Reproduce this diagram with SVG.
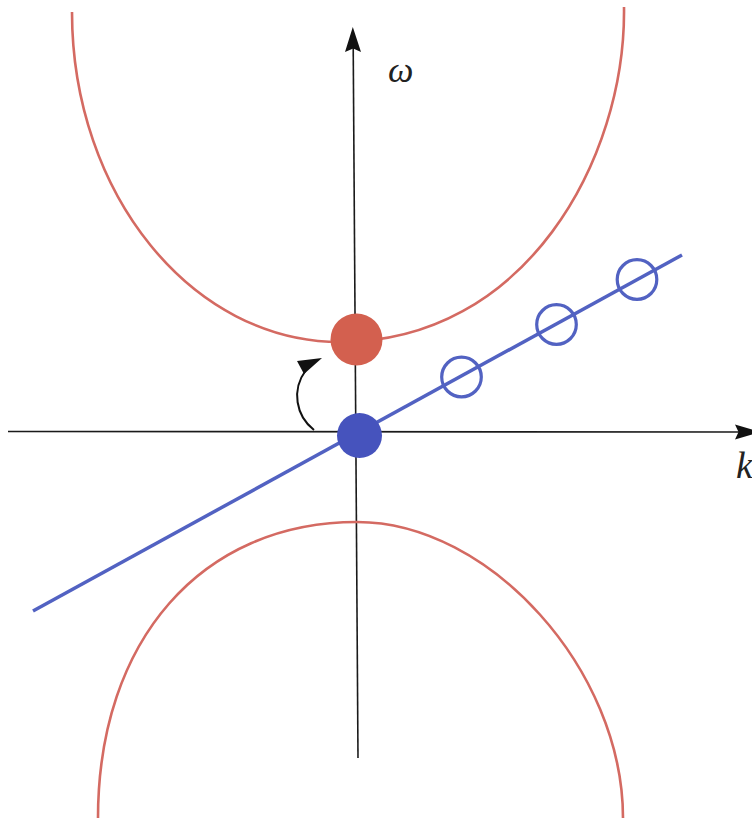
<svg xmlns="http://www.w3.org/2000/svg" width="752" height="825" viewBox="0 0 752 825">
<style>
.axis{stroke:#1a1a1a;stroke-width:1.6;fill:none}
.head{fill:#111}
.band{stroke:#d46a62;stroke-width:2.6;fill:none}
.blue{stroke:#5262c2;stroke-width:3.5;fill:none}
.ring{stroke:#5262c2;stroke-width:3.2;fill:none}
.lbl{font-family:"Liberation Serif","DejaVu Serif",serif;font-style:italic;fill:#222}
</style>
<rect width="752" height="825" fill="#ffffff"/>
<g id="connectors">
  <g id="k-axis">
    <line class="axis" x1="8" y1="431.5" x2="742" y2="432"/>
    <polygon class="head" points="760,432 735,424.5 738.5,432 735,439.5"/>
  </g>
  <g id="omega-axis">
    <line class="axis" x1="358" y1="758" x2="353.2" y2="46"/>
    <polygon class="head" points="352.8,27 361,52 353.2,48.5 345,52"/>
  </g>
  <g id="upper-band">
    <path class="band" d="M 72 12 C 72 194, 192 342, 340 342 C 525 342, 626 160, 624 7"/>
  </g>
  <g id="lower-band">
    <path class="band" d="M 98 818 C 98 640, 202 522, 357 522 C 490 522, 623 670, 623 818"/>
  </g>
  <g id="blue-line">
    <line class="blue" x1="33" y1="611" x2="682" y2="255"/>
  </g>
  <g id="turn-arrow">
    <path d="M 314 430 C 296 416, 291 390, 306 370" stroke="#111" stroke-width="2" fill="none"/>
    <polygon class="head" points="322,358 297,361 304,374"/>
  </g>
</g>
<g id="red-dot"><circle cx="356.5" cy="339.5" r="26" fill="#d3604f"/></g>
<g id="blue-dot"><circle cx="359.5" cy="435.5" r="22.5" fill="#4653bd"/></g>
<g id="ring-1"><circle class="ring" cx="461.5" cy="377" r="19.8"/></g>
<g id="ring-2"><circle class="ring" cx="556.5" cy="324.5" r="19.8"/></g>
<g id="ring-3"><circle class="ring" cx="637" cy="279.5" r="19.8"/></g>
<g id="label-omega"><text class="lbl" x="388" y="82" font-size="36">ω</text></g>
<g id="label-k"><text class="lbl" x="736" y="478" font-size="38">k</text></g>
</svg>
